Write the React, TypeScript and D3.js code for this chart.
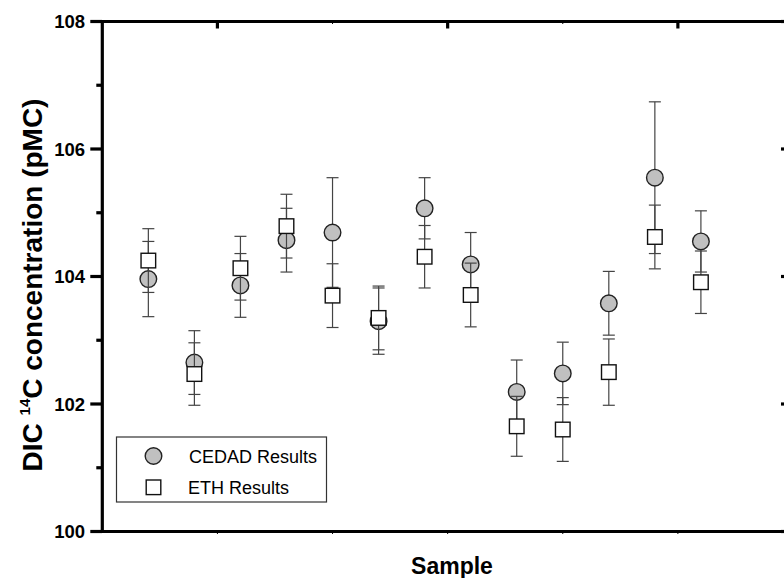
import React from 'react'
import * as d3 from 'd3'

// values, one entry per sample (1..13)
const SAMPLES = [1, 2, 3, 4, 5, 6, 7, 8, 9, 10, 11, 12, 13]
const CEDAD = [103.96, 102.65, 103.86, 104.57, 104.69, 103.3, 105.07, 104.19, 102.19, 102.48, 103.58, 105.55, 104.55]
const CEDAD_ERR = [0.59, 0.5, 0.5, 0.5, 0.86, 0.52, 0.48, 0.5, 0.5, 0.49, 0.5, 1.19, 0.48]
const ETH = [104.25, 102.47, 104.13, 104.79, 103.7, 103.35, 104.31, 103.71, 101.65, 101.6, 102.5, 104.62, 103.91]
const ETH_ERR = [0.5, 0.49, 0.5, 0.5, 0.5, 0.5, 0.49, 0.5, 0.47, 0.5, 0.52, 0.5, 0.49]

const Y_MAJOR = [100, 102, 104, 106, 108]
const Y_MINOR = [101, 103, 105, 107]
const X_MAJOR = [2.5, 7.5, 12.5]
const X_MINOR = [5, 10]
const LEGEND = ['CEDAD Results', 'ETH Results']

const W = 784, H = 578
const FONT = 'Arial, "Liberation Sans", Helvetica, sans-serif'

export default function App() {
  const x = d3.scaleLinear().domain([0, 15]).range([102.3, 793])
  const y = d3.scaleLinear().domain([100, 108]).range([531.5, 21.5])
  const [x0, x1] = x.range()
  const [yb, yt] = y.range()

  const errBar = (xv: number, v: number, e: number, key: string) => {
    const cx = x(xv)
    return (
      <g key={key} stroke="#444" strokeWidth={1.2}>
        <line x1={cx} x2={cx} y1={y(v + e)} y2={y(v - e)} />
        <line x1={cx - 6} x2={cx + 6} y1={y(v + e)} y2={y(v + e)} />
        <line x1={cx - 6} x2={cx + 6} y1={y(v - e)} y2={y(v - e)} />
      </g>
    )
  }

  return (
    <svg width={W} height={H} style={{ position: 'absolute', left: 0, top: 0, background: '#fff' }}
      fontFamily={FONT}>
      {/* data: CEDAD bars, circles, then ETH bars, squares */}
      {SAMPLES.map((s, i) => errBar(s, CEDAD[i], CEDAD_ERR[i], `ce${i}`))}
      {SAMPLES.map((s, i) => (
        <circle key={`c${i}`} cx={x(s)} cy={y(CEDAD[i])} r={8.3} fill="#c0c0c0" stroke="#222" strokeWidth={1.4} />
      ))}
      {SAMPLES.map((s, i) => errBar(s, ETH[i], ETH_ERR[i], `ee${i}`))}
      {SAMPLES.map((s, i) => (
        <rect key={`s${i}`} x={x(s) - 7.3} y={y(ETH[i]) - 7.3} width={14.6} height={14.6}
          fill="#fff" stroke="#111" strokeWidth={1.4} />
      ))}

      {/* frame */}
      <g stroke="#000" strokeWidth={3.2} fill="none">
        <line x1={x0} x2={x1 + 2} y1={yt} y2={yt} />
        <line x1={x0} x2={x1 + 2} y1={yb} y2={yb} />
        <line x1={x0} x2={x0} y1={yt - 1.6} y2={yb + 1.6} />
        <line x1={x1} x2={x1} y1={yt} y2={yb} />
        {Y_MAJOR.map(v => <line key={`ym${v}`} x1={x0 - 12} x2={x0} y1={y(v)} y2={y(v)} />)}
        {Y_MINOR.map(v => <line key={`yn${v}`} x1={x0 - 6} x2={x0} y1={y(v)} y2={y(v)} />)}
        {Y_MAJOR.map(v => <line key={`rm${v}`} x1={x1 - 12} x2={x1} y1={y(v)} y2={y(v)} />)}
        {X_MAJOR.map(v => <line key={`tm${v}`} x1={x(v)} x2={x(v)} y1={yt} y2={yt + 7} />)}
      </g>
      <g stroke="#000" strokeWidth={1}>
        {X_MINOR.map(v => <line key={`tn${v}`} x1={x(v)} x2={x(v)} y1={yt} y2={yt + 2.5} />)}
        {[...X_MAJOR, ...X_MINOR].map(v => <line key={`bn${v}`} x1={x(v)} x2={x(v)} y1={yb} y2={yb + 2.5} />)}
      </g>

      {/* y tick labels */}
      {Y_MAJOR.map(v => (
        <text key={`yl${v}`} x={85} y={y(v)} dy="0.36em" textAnchor="end" fontSize={18.5} fontWeight="bold">
          {v}
        </text>
      ))}

      {/* axis titles */}
      <text transform={`translate(42,${285}) rotate(-90)`} textAnchor="middle" fontSize={28} fontWeight="bold">
        DIC <tspan fontSize={15} dy={-12}>14</tspan><tspan dy={12}>C concentration (pMC)</tspan>
      </text>
      <text x={452} y={574} textAnchor="middle" fontSize={23} fontWeight="bold">Sample</text>

      {/* legend */}
      <rect x={116.5} y={437} width={210} height={65} fill="#fff" stroke="#333" strokeWidth={1.2} />
      <circle cx={153.5} cy={456} r={8.3} fill="#c0c0c0" stroke="#222" strokeWidth={1.4} />
      <rect x={146.2} y={480} width={14.6} height={14.6} fill="#fff" stroke="#111" strokeWidth={1.4} />
      <text x={189} y={463} fontSize={18}>{LEGEND[0]}</text>
      <text x={188} y={494} fontSize={18}>{LEGEND[1]}</text>
    </svg>
  )
}
